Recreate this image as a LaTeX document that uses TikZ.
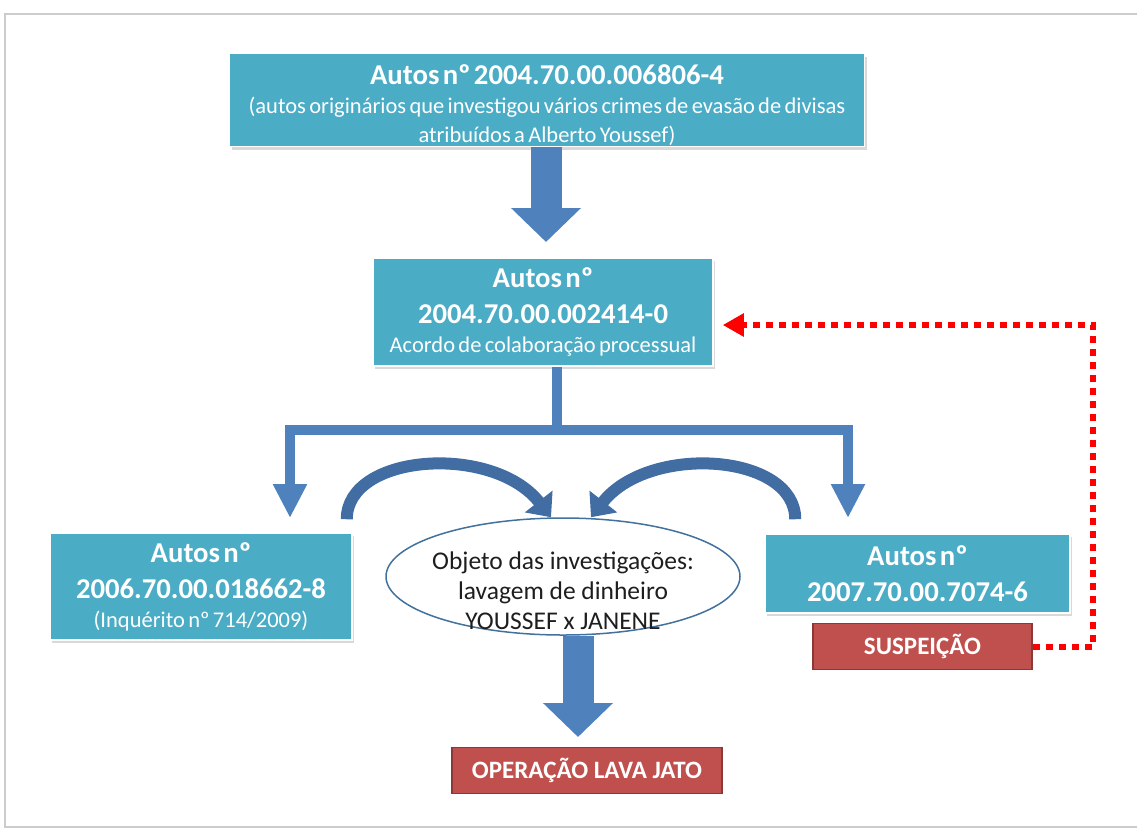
\documentclass[tikz,border=0pt]{standalone}
\usepackage{fontspec}
\setmainfont{Carlito}
\usetikzlibrary{positioning,shapes.geometric,shadows,arrows.meta}
\definecolor{autosfill}{HTML}{4BACC6}
\definecolor{flowblue}{HTML}{4F81BD}
\definecolor{curveblue}{HTML}{416DA3}
\definecolor{alertred}{HTML}{C0504D}
\definecolor{alertedge}{HTML}{8C3836}
\definecolor{ovaledge}{HTML}{41719C}
\definecolor{ovaltext}{HTML}{1E1E1E}
\newcommand{\autosfont}{\fontsize{28.7}{36}\selectfont\bfseries}
\newcommand{\notefont}{\fontsize{22.5}{29}\selectfont}
\tikzset{
	autos/.style={
		rectangle,
		fill=autosfill,
		draw=white, line width=1.5pt,
		text=white,
		inner sep=0pt,
		align=center,
		drop shadow={shadow xshift=2pt, shadow yshift=-3pt, opacity=0.3},
	},
	alert/.style={
		rectangle,
		fill=alertred,
		draw=alertedge, line width=1.5pt,
		text=white,
		font=\fontsize{25}{30}\selectfont\bfseries,
		inner sep=0pt,
	},
	bigarrow/.style={draw=flowblue, line width=31pt, -{Triangle[length=34pt,width=68pt]}},
	forkline/.style={draw=flowblue, line width=10pt, -{Triangle[length=34pt,width=32pt]}},
	curvearrow/.style={draw=curveblue, line width=12pt, -{Triangle[length=20pt,width=34pt]}},
	suspline/.style={draw=red, line width=6pt, dash pattern=on 7pt off 6pt, -{Triangle[length=21pt,width=22pt]}},
}

\begin{document}
\begin{tikzpicture}[x=1pt, y=-1pt]
\useasboundingbox (0,0) rectangle (1137,831);
\draw[gray!40, line width=1.2pt] (5,14) rectangle (1150,827);

\node	(first)		[autos, text width=635pt, minimum height=93pt]	at (547,100)
	{{\autosfont\rule{0pt}{31pt}Autos nº 2004.70.00.006806-4\par}{\notefont (autos originários que investigou vários crimes de evasão de divisas\par atribuídos a Alberto Youssef)\par}};
\node	(accord)	[autos, text width=340pt, minimum height=108pt]	[below=110pt of first, xshift=-4pt]
	{{\autosfont Autos nº\par 2004.70.00.002414-0\par}{\notefont Acordo de colaboração processual\par}};
\node	(inquiry)	[autos, text width=302pt, minimum height=107pt]	at (201,586.5)
	{{\autosfont Autos nº\par 2006.70.00.018662-8\par}{\notefont (Inquérito nº 714/2009)\par}};
\node	(second)	[autos, text width=305pt, minimum height=79pt]	at (917.5,573.5)
	{{\autosfont Autos nº\par 2007.70.00.7074-6\par}};
\node	(susp)		[alert, minimum width=219pt, minimum height=46pt]	[below=9pt of second, xshift=5pt]	{SUSPEIÇÃO};
\node	(obj)		[ellipse, draw=ovaledge, line width=1.5pt, fill=white, text=ovaltext, inner sep=-15pt, minimum width=354pt, minimum height=117pt, align=center, font=\fontsize{25.5}{30}\selectfont]	at (563,576.5)
	{\rule{0pt}{46pt}Objeto das investigações:\\ lavagem de dinheiro\\ YOUSSEF x JANENE};
\node	(lava)		[alert, minimum width=270pt, minimum height=46pt]	[below=111pt of obj, xshift=24pt]	{OPERAÇÃO LAVA JATO};

\coordinate	(firsttip)	at (546,242);
\coordinate	(fork)		at (557,430);
\coordinate	(lefttip)	at (290,518);
\coordinate	(righttip)	at (848,518);
\coordinate	(leftfoot)	at ([xshift=-6pt,yshift=13pt]inquiry.north east);
\coordinate	(rightfoot)	at ([xshift=31pt,yshift=14pt]second.north west);
\coordinate	(lavatip)	at (578,737);
\coordinate	(bend)		at (1093,325);

\draw[bigarrow] (first.south -| firsttip) -- (firsttip);
\draw[forkline] (accord.south -| fork) -- (fork) -| (lefttip);
\draw[forkline] (fork) -| (righttip);
\draw[curvearrow] (leftfoot) .. controls +(0,-66) and +(-58,-74) .. ([xshift=-12pt]obj.north);
\draw[curvearrow] (rightfoot) .. controls +(0,-66) and +(58,-74) .. ([xshift=28pt]obj.north);
\draw[bigarrow] (obj.south -| lavatip) -- (lavatip);
\draw[suspline, shorten >=9pt] (susp.east) -| (bend) -- (bend -| accord.east);

\end{tikzpicture}
\end{document}
